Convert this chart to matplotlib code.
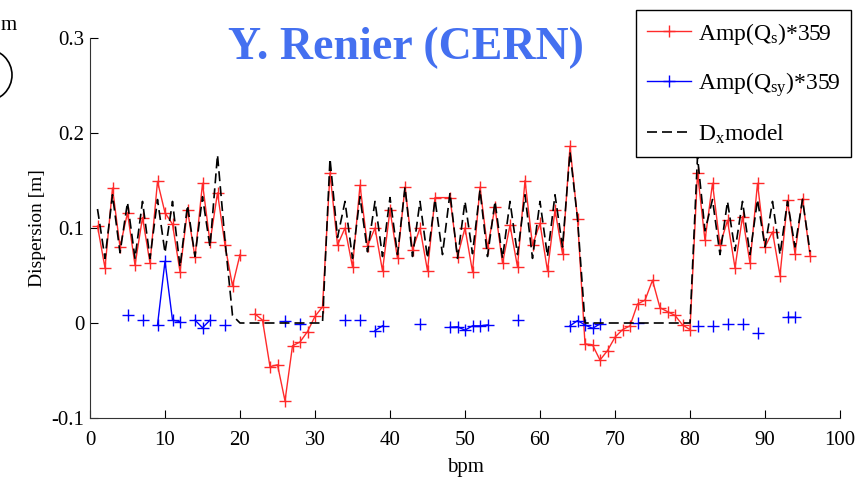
import numpy as np
import matplotlib
matplotlib.use("Agg")
import matplotlib.pyplot as plt
from matplotlib.patches import Ellipse

plt.rcParams["font.family"] = "Liberation Serif"
plt.rcParams["mathtext.fontset"] = "custom"
plt.rcParams["mathtext.rm"] = "Liberation Serif"
plt.rcParams["mathtext.it"] = "Liberation Serif:italic"

# measured dispersion from Amp(Qs), bpm 47 not in the list, bpm 21 bad
red_x = list(range(1, 47)) + list(range(48, 97))
red_y = [0.102, 0.058, 0.142, 0.080, 0.116, 0.061, 0.111, 0.063, 0.149, 0.116,
         0.104, 0.054, 0.119, 0.069, 0.147, 0.085, 0.137, 0.082, 0.039, 0.072,
         np.nan, 0.0095, 0.003, -0.046, -0.044, -0.082, -0.024, -0.020, -0.009, 0.007,
         0.017, 0.158, 0.082, 0.100, 0.059, 0.145, 0.081, 0.100, 0.055, 0.119,
         0.068, 0.143, 0.077, 0.100, 0.055, 0.132,
         0.132, 0.070, 0.100, 0.054, 0.143, 0.079, 0.122, 0.063, 0.103, 0.059,
         0.150, 0.082, 0.105, 0.055, 0.119, 0.073, 0.186, 0.110, -0.022, -0.023,
         -0.039, -0.029, -0.015, -0.007, -0.003, 0.020, 0.024, 0.045, 0.016, 0.012,
         0.008, -0.002, -0.007, 0.158, 0.087, 0.147, 0.082, 0.108, 0.058, 0.112,
         0.063, 0.147, 0.080, 0.096, 0.050, 0.129, 0.073, 0.131, 0.071]

# vertical dispersion from Amp(Qsy)
blue_x = [5, 7, 9, 10, 11, 12, 14, 15, 16, 18, 26, 28, 34, 36, 38, 39, 44,
          48, 49, 50, 51, 52, 53, 57, 64, 65, 66, 67, 68, 73, 81, 83, 85, 87,
          89, 93, 94]
blue_y = [0.008, 0.003, -0.002, 0.065, 0.003, 0.0015, 0.003, -0.005, 0.003,
          -0.002, 0.002, -0.001, 0.003, 0.003, -0.008, -0.003, -0.001,
          -0.0045, -0.004, -0.0075, -0.003, -0.003, -0.002, 0.003, -0.003,
          0.0025, -0.002, -0.0056, -0.001, 0.0004, -0.003, -0.003, -0.001,
          -0.001, -0.010, 0.006, 0.006]

# model Dx
model_x = list(range(1, 97))
model_y = [0.120, 0.068, 0.135, 0.074, 0.127, 0.068, 0.128, 0.068, 0.130, 0.074,
           0.128, 0.059, 0.124, 0.070, 0.133, 0.080, 0.177, 0.087, 0.008, 0,
           0, 0, 0, 0, 0, 0, 0, 0, 0, 0,
           0, 0.173, 0.090, 0.128, 0.068, 0.133, 0.075, 0.128, 0.070, 0.132,
           0.072, 0.143, 0.070, 0.128, 0.068, 0.130, 0.072, 0.137, 0.068, 0.128,
           0.073, 0.140, 0.070, 0.128, 0.068, 0.128, 0.072, 0.135, 0.068, 0.128,
           0.070, 0.135, 0.080, 0.180, 0.110, 0, 0, 0, 0, 0,
           0, 0, 0, 0, 0, 0, 0, 0, 0, 0,
           0.175, 0.097, 0.130, 0.072, 0.128, 0.076, 0.128, 0.072, 0.130, 0.080,
           0.128, 0.072, 0.128, 0.080, 0.130, 0.075]

# blue gaps break the line
blue_full = np.full(96, np.nan)
blue_full[np.array(blue_x) - 1] = blue_y

fig = plt.figure(figsize=(8.66, 4.9), dpi=100)
ax = fig.add_axes([90 / 866, 1 - 418 / 490, 750 / 866, 380 / 490])

ax.plot(red_x, red_y, color="#ff2a2a", lw=1.0, marker="+", ms=9, mew=1.0,
        label="Amp(Q$_\\mathrm{s}$)*359")
ax.plot(model_x, blue_full, color="#0000ff", lw=1.0, marker="+", ms=9, mew=1.0,
        label="Amp(Q$_\\mathrm{sy}$)*359")
ax.plot(model_x, model_y, color="black", lw=1.2, ls=(0, (6, 3)),
        label="D$_\\mathrm{x}$model")

ax.set_xlim(0, 100)
ax.set_ylim(-0.1, 0.3)
ax.set_xticks(np.arange(0, 101, 10))
ax.set_yticks([-0.1, 0, 0.1, 0.2, 0.3])
ax.set_yticklabels(["-0.1", "0", "0.1", "0.2", "0.3"])
ax.tick_params(direction="in", length=6, width=0.8, labelsize=15)
ax.tick_params(axis="x", pad=9)
ax.tick_params(axis="y", pad=4)
ax.spines["top"].set_visible(False)
ax.spines["right"].set_visible(False)
ax.spines["left"].set_color("#333333")
ax.spines["bottom"].set_color("#333333")
ax.set_xlabel("bpm", fontsize=15, labelpad=6)
ax.set_ylabel("Dispersion [m]", fontsize=14)

leg = ax.legend(loc="upper right", bbox_to_anchor=(851 / 866, 1 - 10 / 490),
                bbox_transform=fig.transFigure, fontsize=17, frameon=True,
                fancybox=False, edgecolor="black", framealpha=1,
                handlelength=1.9, handletextpad=0.3, labelspacing=1.0,
                borderpad=0.45, borderaxespad=0)
leg.get_frame().set_linewidth(1.0)

fig.text(406 / 866, 1 - 48 / 490, "Y. Renier (CERN)", ha="center", va="center",
         fontsize=33, fontweight="bold", color="#4470f0")

# bits of the slide on the left edge
fig.text(1 / 866, 1 - 30 / 490, "m", ha="left", va="baseline", fontsize=15)
fig.patches.append(Ellipse((-14 / 866, 1 - 75 / 490), 52 / 866, 52 / 490,
                           transform=fig.transFigure, fill=False, lw=1.2,
                           color="black"))

fig.savefig("out.png", dpi=100)
